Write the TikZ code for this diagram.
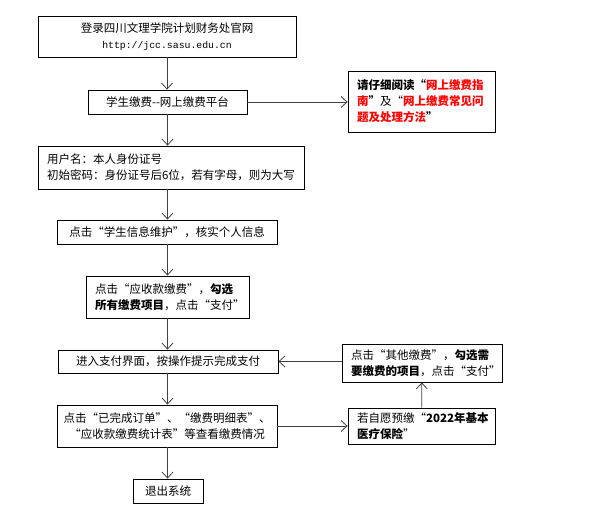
\documentclass[tikz,border=0pt]{standalone}
\usepackage{fontspec}
\setmainfont{Noto Sans CJK SC}
\setmonofont{Liberation Mono}
\usetikzlibrary{arrows.meta,positioning}

\tikzset{
  box/.style={draw, line width=0.8pt, minimum height=24pt, inner sep=0pt, align=center, font=\fontsize{11.5}{16}\selectfont},
  leftbox/.style={box, align=left, inner xsep=9pt},
  flow/.style={-{Straight Barb[length=6pt,width=11pt]}, line width=0.8pt, draw=black!75},
}

\begin{document}
\begin{tikzpicture}[x=1pt, y=-1pt]
  \useasboundingbox (0,0) rectangle (610,518);

  % main column
  \node[box, minimum width=258pt, minimum height=41pt] (login) at (167,36.5)
    {登录四川文理学院计划财务处官网\\{\ttfamily\fontsize{9.8}{16}\selectfont http://jcc.sasu.edu.cn}};
  \node[box, minimum width=159pt] (platform) at (167.5,102) {学生缴费-{}-网上缴费平台};
  \node[leftbox, text width=248pt, minimum height=43pt] (account) at (171,167.5)
    {用户名：本人身份证号\\初始密码：身份证号后6位，若有字母，则为大写};
  \node[box, minimum width=220pt] (verify) at (167,232) {点击“学生信息维护”，核实个人信息};
  \node[leftbox, text width=145pt, minimum height=42pt] (select) at (167.5,297)
    {点击“应收款缴费”，\textbf{勾选}\\\textbf{所有缴费项目}，点击“支付”};
  \node[box, minimum width=220pt, minimum height=23pt] (pay) at (168,361.5) {进入支付界面，按操作提示完成支付};
  \node[box, minimum width=220pt, minimum height=42pt] (view) at (167,426)
    {点击“已完成订单”、“缴费明细表”、\\“应收款缴费统计表”等查看缴费情况};
  \node[box, minimum width=70pt] (exit) at (168,491) {退出系统};

  % side boxes
  \node[leftbox, text width=129pt, minimum height=61pt] (tips) at (421.5,101.5)
    {\textbf{请仔细阅读“\textcolor{red}{网上缴费指}}\\\textbf{\textcolor{red}{南}”}及“\textbf{\textcolor{red}{网上缴费常见问}}\\\textbf{\textcolor{red}{题及处理方法}”}};
  \node[leftbox, text width=142pt, minimum height=38pt] (other) at (422,363)
    {点击“其他缴费”，\textbf{勾选需}\\\textbf{要缴费的项目}，点击“支付”};
  \node[leftbox, text width=129pt, minimum height=36pt] (insure) at (421.5,426)
    {若自愿预缴“\textbf{2022年基本}\\\textbf{医疗保险}”};

  % arrows
  \draw[flow] (login.south) -- (login.south |- platform.north);
  \draw[flow] (platform.south) -- (platform.south |- account.north);
  \draw[flow] (platform.south |- account.south) -- (platform.south |- verify.north);
  \draw[flow] (platform.south |- verify.south) -- (platform.south |- select.north);
  \draw[flow] (platform.south |- select.south) -- (platform.south |- pay.north);
  \draw[flow] (platform.south |- pay.south) -- (platform.south |- view.north);
  \draw[flow] (platform.south |- view.south) -- (platform.south |- exit.north);
  \draw[flow] (platform) -- (tips.west |- platform);
  \draw[flow] (other.west |- pay) -- (pay);
  \draw[flow] (view) -- (insure.west |- view);
  \draw[flow] (insure) -- (other);
\end{tikzpicture}
\end{document}
